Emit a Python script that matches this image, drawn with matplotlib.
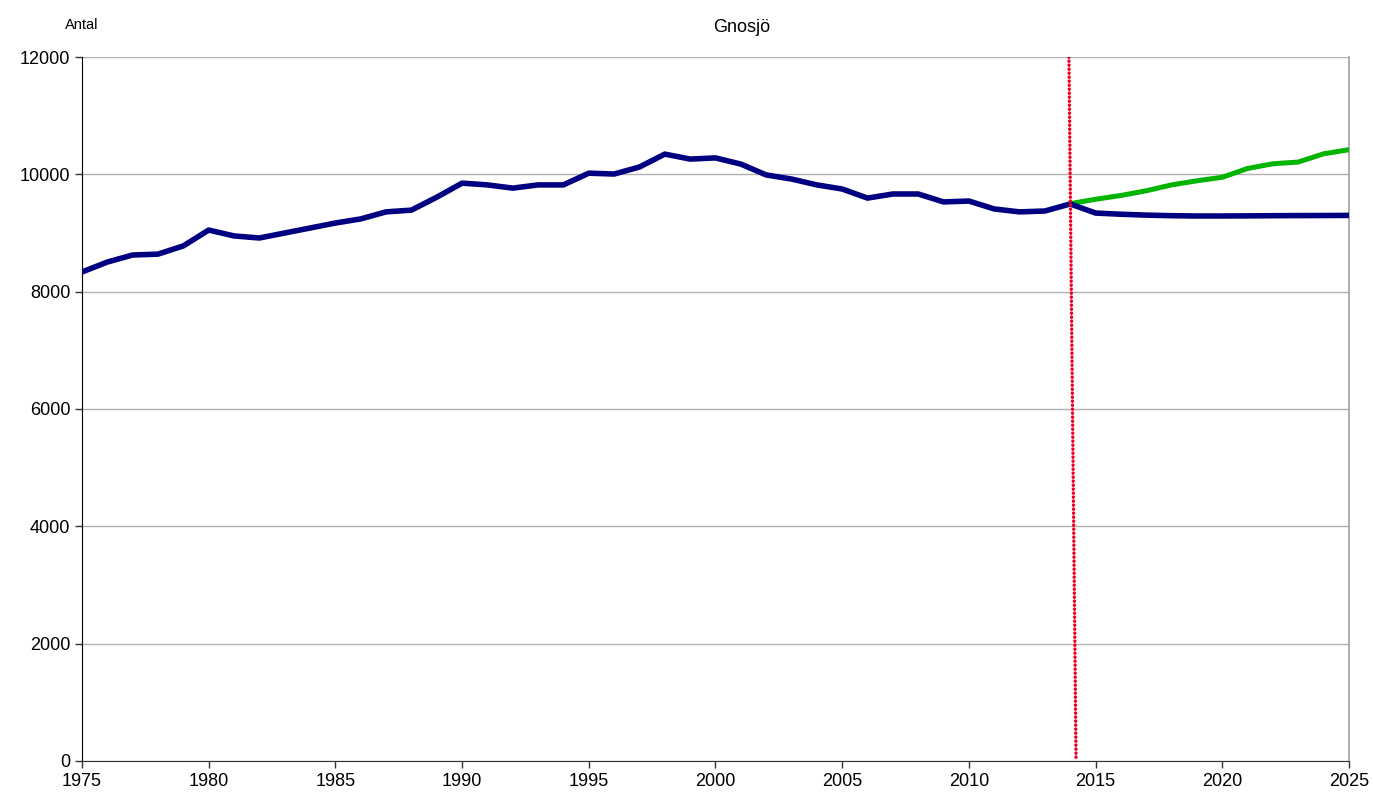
import numpy as np
import matplotlib.pyplot as plt

plt.rcParams['font.family'] = ['Liberation Sans', 'DejaVu Sans']

# historical population (Gnosjö)
years_hist = np.arange(1975, 2015)
pop_hist = [8335, 8505, 8625, 8640, 8780, 9050, 8950, 8915, 9000, 9085,
            9170, 9240, 9360, 9390, 9610, 9850, 9820, 9765, 9820, 9820,
            10020, 10005, 10125, 10345, 10260, 10280, 10175, 9990, 9920, 9820,
            9750, 9595, 9665, 9665, 9530, 9545, 9410, 9360, 9375, 9495]

# projections 2014-2025
years_proj = np.arange(2014, 2026)
pop_proj_low = [9495, 9340, 9320, 9305, 9295, 9290, 9290, 9292, 9295, 9297, 9298, 9300]
pop_proj_high = [9500, 9575, 9640, 9720, 9820, 9890, 9950, 10100, 10180, 10210, 10350, 10420]

# forecast start marker
cut_x = [2013.95, 2014.23]
cut_y = [12000, 0]

fig = plt.figure(figsize=(13.73, 7.93), dpi=100)
ax = fig.add_axes([0.0597, 0.0404, 0.9228, 0.8877])

ax.plot(years_proj, pop_proj_high, color='#00b400', lw=3.6, solid_capstyle='round',
        solid_joinstyle='round', zorder=3)
ax.plot(years_proj, pop_proj_low, color='#000080', lw=4.0, solid_capstyle='butt',
        solid_joinstyle='round', zorder=4)
ax.plot(years_hist, pop_hist, color='#000080', lw=4.0, solid_capstyle='butt',
        solid_joinstyle='round', zorder=4)
ax.plot(cut_x, cut_y, color='#ee0022', lw=2.4, linestyle=(0, (0.1, 1.1)),
        dash_capstyle='round', zorder=5)

ax.set_xlim(1975, 2025)
ax.set_ylim(0, 12000)
ax.set_xticks(np.arange(1975, 2026, 5))
ax.set_yticks(np.arange(0, 12001, 2000))
ax.tick_params(labelsize=13, length=5, direction='out', width=1, colors='#333333',
               labelcolor='black')
ax.yaxis.grid(True, color='#b0b0b0', lw=1)
ax.set_axisbelow(True)

ax.spines['top'].set_visible(False)
ax.spines['right'].set_color('#a0a0a0')
ax.spines['right'].set_linewidth(1.2)
ax.spines['left'].set_color('black')
ax.spines['bottom'].set_color('#333333')

fig.text(0.54, 0.965, 'Gnosjö', ha='center', va='center', fontsize=13)
fig.text(0.047, 0.968, 'Antal', ha='left', va='center', fontsize=10.5)

fig.savefig('out.png', dpi=100)
